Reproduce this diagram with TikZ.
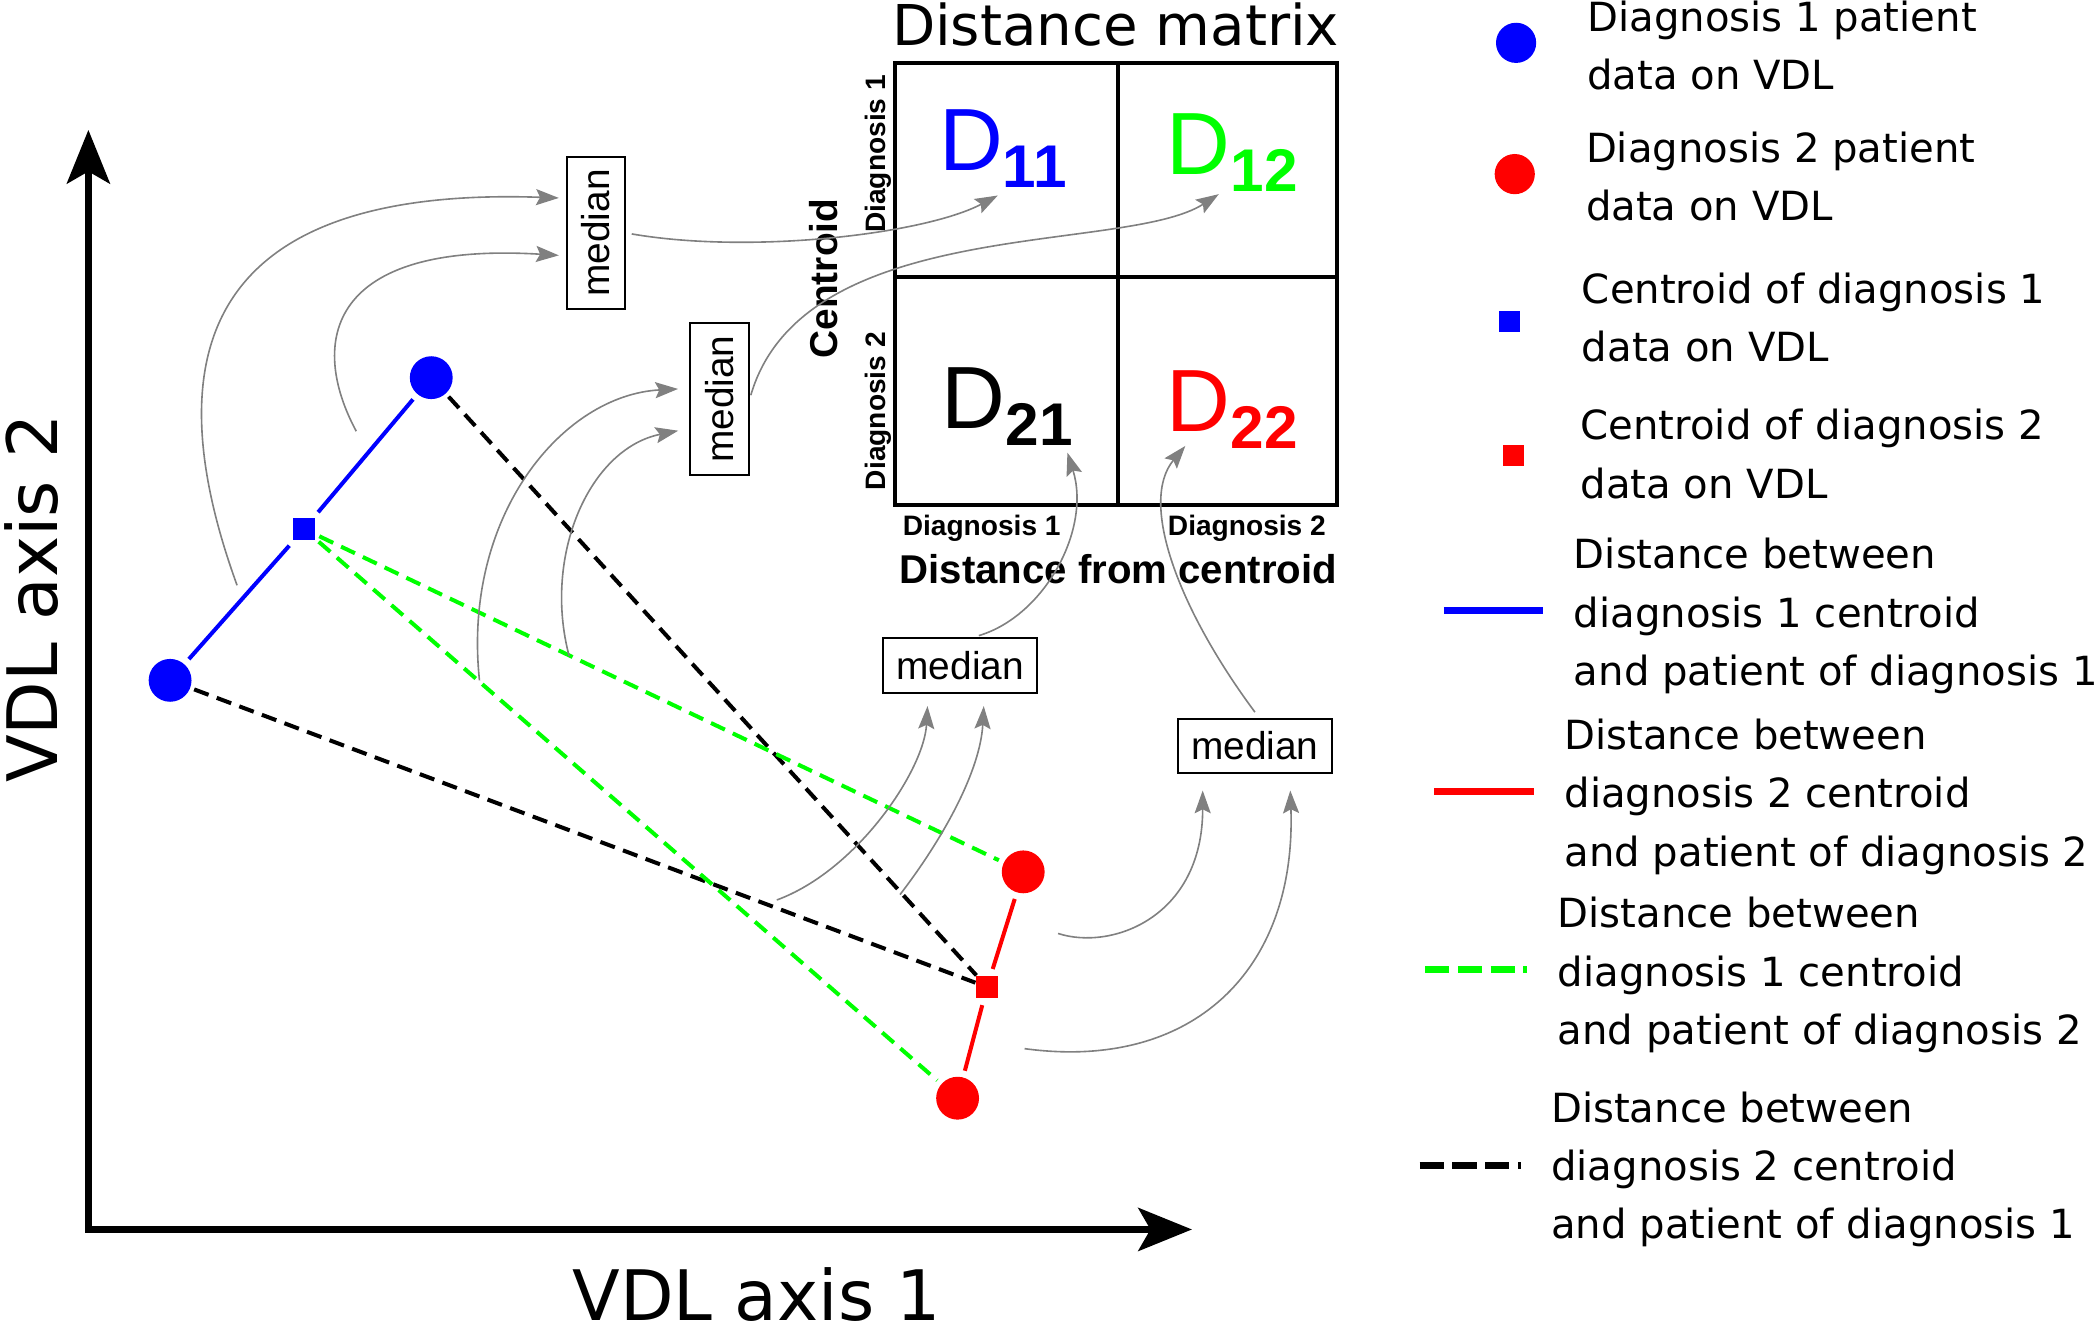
\documentclass[tikz,border=0pt]{standalone}
\usepackage{fontspec}
\usepackage{graphicx}
\setmainfont{DejaVu Sans}
\newfontfamily\arialfont{Liberation Sans}
\usetikzlibrary{arrows.meta,positioning}

\newcommand{\dlabel}[1]{{\arialfont\fontsize{66}{66}\selectfont D}\raisebox{-13pt}{\arialfont\bfseries\fontsize{45}{45}\selectfont #1}}

\begin{document}
\begin{tikzpicture}[x=1pt,y=1pt,
	patient/.style={circle,fill=#1,inner sep=0pt,minimum size=32pt},
	centre/.style={rectangle,fill=#1,inner sep=0pt,minimum size=17pt},
	median/.style={draw,line width=1.5pt,inner sep=0pt,minimum width=115pt,minimum height=41pt,font=\arialfont\fontsize{29}{29}\selectfont},
	vmedian/.style={median,minimum width=44pt,minimum height=114pt},
	flow/.style={draw=gray,line width=1.2pt,-{Stealth[length=17pt,width=12pt,inset=3pt]}},
	legtext/.style={anchor=west,align=left,inner sep=0pt,font=\fontsize{30}{43.5}\selectfont},
	mlabel/.style={inner sep=0pt,font=\arialfont\bfseries\fontsize{21}{21}\selectfont},
	dline/.style={line width=3pt,dash pattern=on 11.5pt off 6.5pt},
	legdash/.style={line width=5pt,dash pattern=on 18pt off 6.5pt}]
	
	\useasboundingbox (0,0) rectangle (1568,995);
	
	% axes
	\coordinate (origin) at (66,77);
	\draw[line width=5.5pt,line join=miter,{Stealth[length=40pt,width=32pt,inset=9pt]}-{Stealth[length=40pt,width=32pt,inset=9pt]}] (66,898) -- (origin) -- (890,77);
	\node[anchor=base,rotate=90,inner sep=0pt,font=\fontsize{52}{52}\selectfont] (yaxis) at (43,548) {VDL axis 2};
	\node[anchor=base,inner sep=0pt,font=\fontsize{52}{52}\selectfont] (xaxis) at (565,9) {VDL axis 1};
	
	% patients and centroids
	\node[patient=blue] (p11) at (127,487) {};
	\node[patient=blue] (p12) at (322,713) {};
	\node[centre=blue] (c1) at (227,600) {};
	\node[patient=red] (p21) at (764,344) {};
	\node[patient=red] (p22) at (715,175) {};
	\node[centre=red] (c2) at (737,258) {};
	
	\draw[dline,black,shorten <=3pt] (p11) -- (c2);
	\draw[dline,black,shorten <=3pt] (p12) -- (c2);
	\draw[dline,green,shorten <=3pt,shorten >=4pt] (c1) -- (p21);
	\draw[dline,green,shorten <=3pt,shorten >=4pt] (c1) -- (p22);
	
	\draw[blue,line width=3pt,shorten <=5pt,shorten >=5pt] (p11) -- (c1);
	\draw[blue,line width=3pt,shorten <=5pt,shorten >=5pt] (c1) -- (p12);
	\draw[red,line width=3pt,shorten <=5pt,shorten >=5pt] (p21) -- (c2);
	\draw[red,line width=3pt,shorten <=5pt,shorten >=5pt] (c2) -- (p22);
	
	% medians
	\node[vmedian] (m1) at (445,821) {\rotatebox{90}{median}};
	\node[vmedian] (m2) at (537,697) {\rotatebox{90}{median}};
	\node[median] (m3) at (717,498) {median};
	\node[median] (m4) at (937,438) {median};
	
	% distance matrix
	\draw[line width=3pt] (668,618) rectangle (998,948);
	\draw[line width=3pt] (835,618) -- (835,948);
	\draw[line width=3pt] (668,788) -- (998,788);
	\node[anchor=base,inner sep=0pt,font=\fontsize{42}{42}\selectfont] (title) at (833,961) {Distance matrix};
	
	\node[anchor=base west,inner sep=0pt,blue] (d11) at (701,868) {\dlabel{11}};
	\node[anchor=base west,inner sep=0pt,green] (d12) at (871,865) {\dlabel{12}};
	\node[anchor=base west,inner sep=0pt,black] (d21) at (703,675) {\dlabel{21}};
	\node[anchor=base west,inner sep=0pt,red] (d22) at (871,673) {\dlabel{22}};
	
	\node[mlabel,anchor=base,rotate=90] (rdiag1) at (661,880) {Diagnosis 1};
	\node[mlabel,anchor=base,rotate=90] (rdiag2) at (661,688) {Diagnosis 2};
	\node[mlabel,anchor=base,rotate=90,font=\arialfont\bfseries\fontsize{29}{29}\selectfont] (rows) at (625,787) {Centroid};
	\node[mlabel,anchor=base] (cdiag1) at (733,595) {Diagnosis 1};
	\node[mlabel,anchor=base] (cdiag2) at (931,595) {Diagnosis 2};
	\node[mlabel,anchor=base,font=\arialfont\bfseries\fontsize{30}{30}\selectfont] (cols) at (835,559) {Distance from centroid};
	
	% gray flows
	\coordinate (s1) at (177,558);
	\coordinate (s2) at (266,673);
	\coordinate (s5) at (358,487);
	\coordinate (s6) at (425,505);
	\coordinate (s7) at (580,323);
	\coordinate (s8) at (672,327);
	\coordinate (s9) at (790,298);
	\coordinate (s10) at (765,212);
	\coordinate (t11) at (745,849);
	\coordinate (t12) at (910,850);
	\coordinate (t21) at (797,657);
	\coordinate (t22) at (885,662);
	
	\draw[flow,shorten >=5pt] (s1) .. controls (100,770) and (195,855) .. ([yshift=26pt]m1.west);
	\draw[flow,shorten >=5pt] (s2) .. controls (230,740) and (245,815) .. ([yshift=-17pt]m1.west);
	\draw[flow,shorten <=4pt] (m1.east) .. controls (560,805) and (690,820) .. (t11);
	\draw[flow,shorten <=3pt] (m2.east) .. controls (600,835) and (840,805) .. (t12);
	\draw[flow,shorten >=8pt] (s5) .. controls (345,610) and (420,700) .. ([yshift=8pt]m2.west);
	\draw[flow,shorten >=8pt] (s6) .. controls (405,580) and (440,660) .. ([yshift=-22pt]m2.west);
	\draw[flow,shorten >=9pt] (s7) .. controls (640,345) and (690,420) .. ([xshift=-24pt]m3.south);
	\draw[flow,shorten >=9pt] (s8) .. controls (705,370) and (732,420) .. ([xshift=18pt]m3.south);
	\draw[flow,shorten >=12pt] (s9) .. controls (830,285) and (898,310) .. ([xshift=-39pt]m4.south);
	\draw[flow,shorten >=12pt] (s10) .. controls (890,195) and (968,270) .. ([xshift=26pt]m4.south);
	\draw[flow,shorten <=4pt] ([xshift=10pt]m3.north) .. controls (780,535) and (815,600) .. (t21);
	\draw[flow,shorten <=5pt] ([xshift=3pt]m4.north) .. controls (880,540) and (850,620) .. (t22);
	
	% legend
	\node[patient=blue,minimum size=30pt] (lp1) at (1132,963) {};
	\node[legtext] (lt1) at (1185,961) {Diagnosis 1 patient\\data on VDL};
	\node[patient=red,minimum size=30pt] (lp2) at (1131,865) {};
	\node[legtext] (lt2) at (1184,863) {Diagnosis 2 patient\\data on VDL};
	\node[centre=blue,minimum size=16pt] (lc1) at (1127,755) {};
	\node[legtext] (lt3) at (1181,758) {Centroid of diagnosis 1\\data on VDL};
	\node[centre=red,minimum size=16pt] (lc2) at (1130,655) {};
	\node[legtext] (lt4) at (1180,656) {Centroid of diagnosis 2\\data on VDL};
	
	\draw[blue,line width=5pt] (1078,539) -- (1152,539);
	\node[legtext] (lt5) at (1175,535) {Distance between\\diagnosis 1 centroid\\and patient of diagnosis 1};
	\draw[red,line width=5pt] (1071,404) -- (1145,404);
	\node[legtext] (lt6) at (1168,400) {Distance between\\diagnosis 2 centroid\\and patient of diagnosis 2};
	\draw[green,legdash] (1064,271) -- (1140,271);
	\node[legtext] (lt7) at (1163,267) {Distance between\\diagnosis 1 centroid\\and patient of diagnosis 2};
	\draw[black,legdash] (1060,125) -- (1136,125);
	\node[legtext] (lt8) at (1158,122) {Distance between\\diagnosis 2 centroid\\and patient of diagnosis 1};
	
\end{tikzpicture}
\end{document}
